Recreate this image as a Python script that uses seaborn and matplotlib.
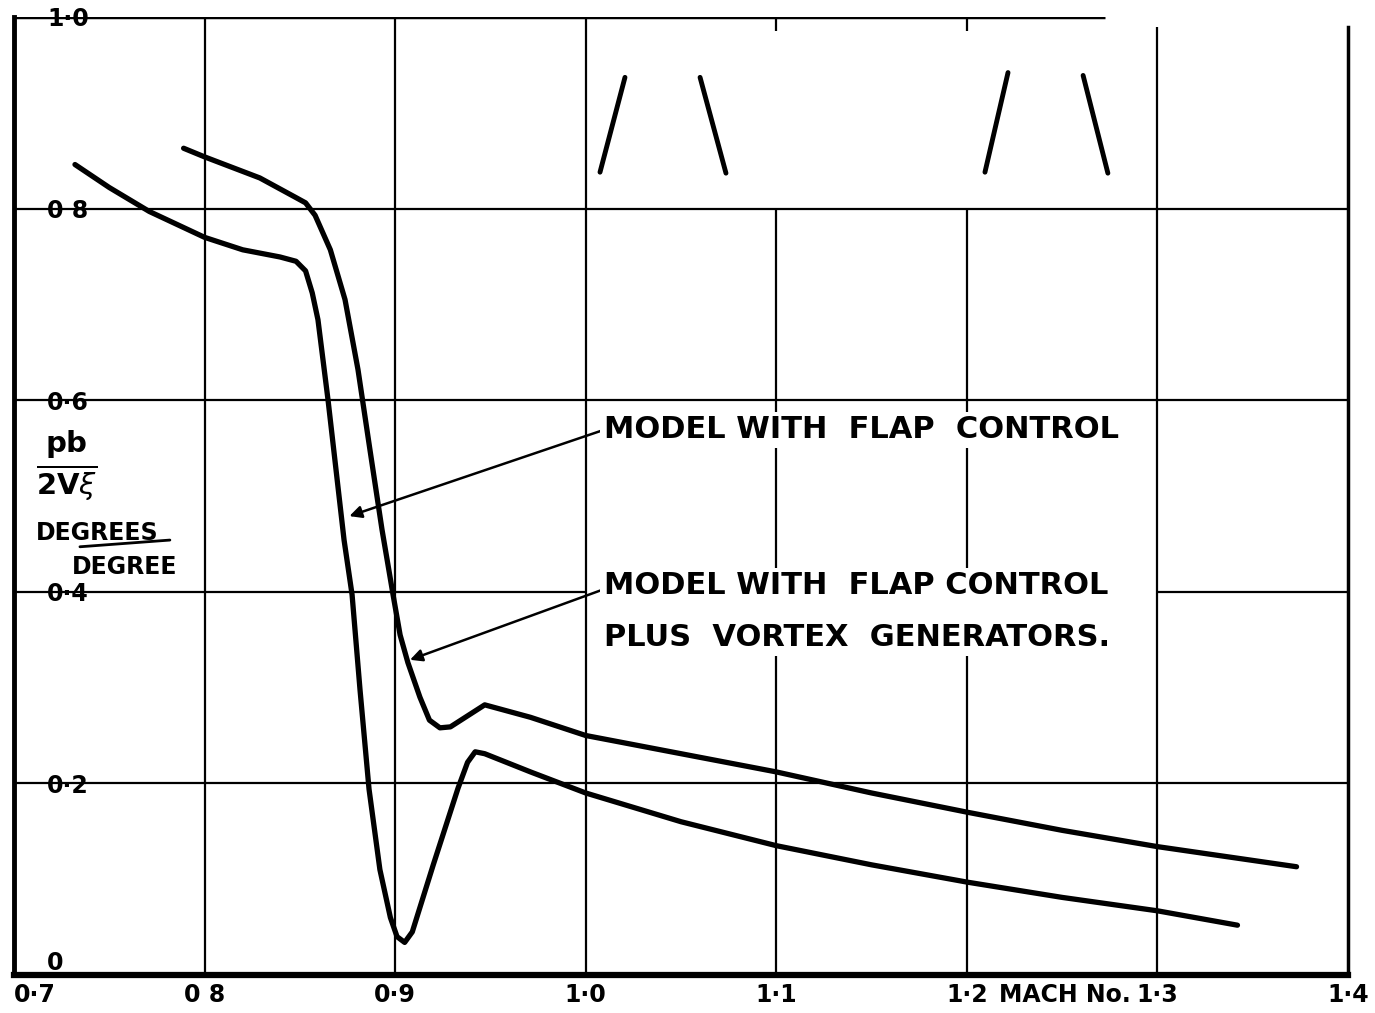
import matplotlib
matplotlib.use("Agg")
import matplotlib.pyplot as plt
import seaborn as sns

# ---- data ----
# model with flap control
mach_flap = [0.732, 0.750, 0.771, 0.800, 0.820, 0.8396, 0.848, 0.853, 0.8565, 0.8595,
             0.8648, 0.869, 0.8732, 0.8774, 0.8816, 0.8863, 0.892, 0.8975, 0.901, 0.905,
             0.909, 0.920, 0.933, 0.938, 0.942, 0.947, 0.971, 1.000, 1.050, 1.100,
             1.150, 1.200, 1.250, 1.300, 1.342]
pb_flap = [0.846, 0.822, 0.797, 0.770, 0.757, 0.7495, 0.745, 0.735, 0.712, 0.684,
           0.600, 0.527, 0.454, 0.397, 0.297, 0.194, 0.110, 0.060, 0.040, 0.034,
           0.045, 0.115, 0.195, 0.222, 0.233, 0.231, 0.212, 0.190, 0.160, 0.135,
           0.115, 0.097, 0.081, 0.067, 0.052]

# model with flap control plus vortex generators
mach_vg = [0.789, 0.800, 0.829, 0.8475, 0.853, 0.858, 0.866, 0.8737, 0.8805, 0.8868,
           0.8931, 0.8989, 0.9026, 0.9067, 0.913, 0.918, 0.9235, 0.929, 0.947, 0.971,
           1.000, 1.050, 1.100, 1.150, 1.200, 1.250, 1.300, 1.373]
pb_vg = [0.863, 0.854, 0.832, 0.812, 0.806, 0.793, 0.757, 0.705, 0.632, 0.548,
         0.465, 0.397, 0.355, 0.326, 0.290, 0.266, 0.258, 0.259, 0.282, 0.269,
         0.250, 0.231, 0.212, 0.190, 0.170, 0.151, 0.134, 0.113]

x_ticks = [0.7, 0.8, 0.9, 1.0, 1.1, 1.2, 1.3, 1.4]
x_ticklabels = ["0·7", "0 8", "0·9", "1·0", "1·1", "1·2", "1·3", "1·4"]
y_ticks = [0, 0.2, 0.4, 0.6, 0.8, 1.0]
y_ticklabels = ["0", "0·2", "0·4", "0·6", "0 8", "1·0"]

label_flap = "MODEL WITH  FLAP  CONTROL"
label_vg = "MODEL WITH  FLAP CONTROL\nPLUS  VORTEX  GENERATORS."

# little vortex generator sketches at the top
vg_sketch_x = [[1.0075, 1.0206], [1.060, 1.0736], [1.2095, 1.2216], [1.261, 1.274]]
vg_sketch_y = [[0.838, 0.937], [0.937, 0.837], [0.838, 0.942], [0.939, 0.837]]

# ---- plot ----
sns.set_style("white")
plt.rcParams["font.family"] = ["DejaVu Sans"]
plt.rcParams["mathtext.fontset"] = "dejavusans"
plt.rcParams["text.color"] = "black"
plt.rcParams["xtick.color"] = "black"
plt.rcParams["ytick.color"] = "black"

fig = plt.figure(figsize=(13.75, 10.13), dpi=100)
ax = fig.add_axes([14 / 1375, 38 / 1013, 1334 / 1375, 958 / 1013])
ax.set_xlim(0.7, 1.4)
ax.set_ylim(0, 1.0)

# hand drawn style grid (broken where the draughtsman left space)
grid_kw = dict(color="black", lw=1.6, zorder=1)
for gx in [0.8, 0.9, 1.0]:
    ax.vlines(gx, 0, 1.0, **grid_kw)
for gx in [1.1, 1.2]:
    ax.vlines(gx, 0, 0.8, **grid_kw)
    ax.vlines(gx, 0.985, 1.0, **grid_kw)
ax.vlines(1.3, 0, 0.99, **grid_kw)
for gy in [0.2, 0.6, 0.8]:
    ax.hlines(gy, 0.7, 1.4, **grid_kw)
ax.hlines(0.4, 0.7, 1.0, **grid_kw)
ax.hlines(0.4, 1.3, 1.4, **grid_kw)
ax.hlines(1.0, 0.7, 1.2725, color="black", lw=2.5, zorder=1)

sns.lineplot(x=mach_flap, y=pb_flap, color="black", lw=3.8, ax=ax, zorder=3)
sns.lineplot(x=mach_vg, y=pb_vg, color="black", lw=3.8, ax=ax, zorder=3)

for sx, sy in zip(vg_sketch_x, vg_sketch_y):
    ax.plot(sx, sy, color="black", lw=3.5, solid_capstyle="round")

# frame
ax.spines["top"].set_visible(False)
ax.spines["left"].set_linewidth(3.5)
ax.spines["bottom"].set_linewidth(4.5)
ax.spines["right"].set_linewidth(2.5)
ax.spines["right"].set_bounds(0, 0.99)
for s in ax.spines.values():
    s.set_color("black")

ax.set_xticks(x_ticks)
ax.set_xticklabels(x_ticklabels, fontsize=17, fontweight="bold")
ax.set_yticks(y_ticks)
ax.set_yticklabels(y_ticklabels, fontsize=17, fontweight="bold")
ax.tick_params(axis="x", length=0, pad=6)
ax.tick_params(axis="y", direction="in", length=14, width=2.5, pad=-24)
for lab in ax.get_yticklabels():
    lab.set_horizontalalignment("left")
    lab.set_bbox(dict(facecolor="white", edgecolor="none", pad=6))
ax.get_yticklabels()[0].set_verticalalignment("bottom")
ax.get_xticklabels()[0].set_horizontalalignment("left")

ax.annotate("MACH No.", xy=(1.2515, 0), xycoords=("data", "axes fraction"),
            xytext=(0, -6), textcoords="offset points",
            fontsize=17, fontweight="bold", ha="center", va="top")

# y axis label
ax.text(0.7115, 0.532, r"$\frac{\mathbf{pb}}{\mathbf{2V}\xi}$", fontsize=30,
        ha="left", va="center")
ax.text(0.7115, 0.461, "DEGREES", fontsize=17, fontweight="bold", ha="left", va="center")
ax.plot([0.7346, 0.7818], [0.447, 0.454], color="black", lw=2)
ax.text(0.7305, 0.426, "DEGREE", fontsize=17, fontweight="bold", ha="left", va="center")

# annotations
box = dict(facecolor="white", edgecolor="none", pad=2.5)
ax.annotate(label_flap, xy=(0.876, 0.479), xytext=(1.0095, 0.569),
            fontsize=22, fontweight="bold", ha="left", va="center", bbox=box,
            arrowprops=dict(arrowstyle="-|>", color="black", lw=1.8, mutation_scale=18,
                            shrinkA=0, shrinkB=0, relpos=(0, 0.5)),
            zorder=4)
ax.annotate(label_vg, xy=(0.9078, 0.329), xytext=(1.0095, 0.379),
            fontsize=22, fontweight="bold", ha="left", va="center",
            linespacing=2.0, bbox=box,
            arrowprops=dict(arrowstyle="-|>", color="black", lw=1.8, mutation_scale=18,
                            shrinkA=0, shrinkB=0, relpos=(0, 0.78)),
            zorder=4)

fig.savefig("out.png", dpi=100)
